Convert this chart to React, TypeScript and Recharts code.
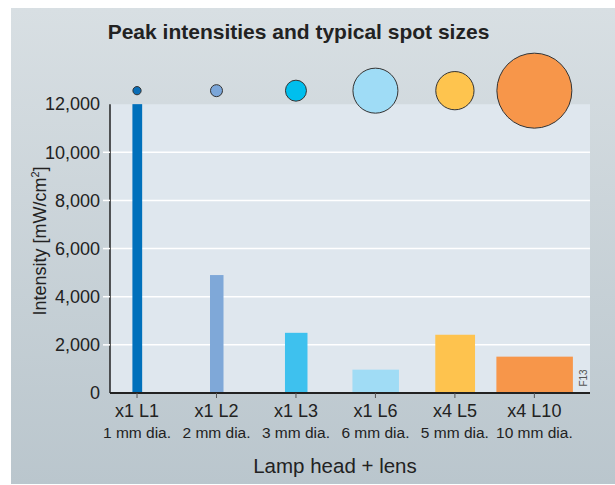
import { ComposedChart, Bar, Scatter, XAxis, YAxis, ReferenceArea, ReferenceLine } from 'recharts';

const lamps = ['x1 L1', 'x1 L2', 'x1 L3', 'x1 L6', 'x4 L5', 'x4 L10'];
const spotLabels = ['1 mm dia.', '2 mm dia.', '3 mm dia.', '6 mm dia.', '5 mm dia.', '10 mm dia.'];
const intensity = [12000, 4900, 2500, 970, 2420, 1510];
const spotMm = [1.1, 1.6, 2.8, 6, 5.1, 10];
const yTicks = [0, 2000, 4000, 6000, 8000, 10000, 12000];
const gridValues = [2000, 4000, 6000, 8000, 10000];

const barColors = ['#0070bb', '#7fa8d8', '#3ec1ee', '#a0dcf5', '#fec34e', '#f7964a'];
const spotColors = ['#0a6db6', '#7ba6d9', '#00bfee', '#9fdcf6', '#fec44e', '#f7964a'];

const FONT = '"Liberation Sans", Arial, Helvetica, sans-serif';
const SPOT_ROW = 12560; // circles sit just above the plot
const PX_PER_MM = 7.5;
const xDomain = [-0.34, 5.7];

const data = lamps.map((name, i) => ({
  idx: i,
  name,
  value: intensity[i],
  spot: spotMm[i],
  spotY: SPOT_ROW,
}));

function BarShape(props: any) {
  const { x, width, y, height, index, payload } = props;
  const cx = x + width / 2;
  const w = Math.max(payload.spot * PX_PER_MM + 1.5, 9.7);
  return <rect x={cx - w / 2} y={y} width={w} height={height} fill={barColors[index]} />;
}

function SpotShape(props: any) {
  const { cx, cy, payload } = props;
  return (
    <circle
      cx={cx}
      cy={cy}
      r={(payload.spot * PX_PER_MM) / 2}
      fill={spotColors[payload.idx]}
      stroke="#333"
      strokeWidth={1}
    />
  );
}

function XTick(props: any) {
  const { x, y, payload } = props;
  const i = payload.value;
  return (
    <g>
      <text x={x} y={y + 17} textAnchor="middle" fontSize={18} fill="#222" fontFamily={FONT}>
        {lamps[i]}
      </text>
      <text x={x} y={y + 38} textAnchor="middle" fontSize={15.5} fill="#222" fontFamily={FONT}>
        {spotLabels[i]}
      </text>
    </g>
  );
}

function YTick(props: any) {
  const { x, y, payload } = props;
  const v = payload.value;
  return (
    <g>
      {v > 0 && v < 12000 && <line x1={x - 7} x2={x} y1={y} y2={y} stroke="#fff" strokeWidth={1.5} />}
      <text x={x - 10} y={y} dy="0.35em" textAnchor="end" fontSize={18} fill="#222" fontFamily={FONT}>
        {v.toLocaleString('en-US')}
      </text>
    </g>
  );
}

export default function App() {
  return (
    <div style={{ position: 'absolute', left: 0, top: 0, width: 615, height: 485, fontFamily: FONT, color: '#222' }}>
      <div
        style={{
          position: 'absolute',
          left: 11,
          top: 8,
          right: 0,
          bottom: 1,
          background: 'linear-gradient(to bottom, #d8dfe3, #bac6cd)',
        }}
      />
      <div style={{ position: 'absolute', left: 0, width: 597, top: 20, textAlign: 'center', fontSize: 21, fontWeight: 700 }}>
        Peak intensities and typical spot sizes
      </div>
      <div
        style={{
          position: 'absolute',
          left: 40,
          top: 241,
          transform: 'translate(-50%, -50%) rotate(-90deg)',
          whiteSpace: 'nowrap',
          fontSize: 18,
        }}
      >
        Intensity [mW/cm<sup style={{ fontSize: 11 }}>2</sup>]
      </div>
      <div style={{ position: 'absolute', left: 0, width: 670, top: 454, textAlign: 'center', fontSize: 20.5 }}>
        Lamp head + lens
      </div>
      <div style={{ position: 'absolute', left: 0, top: 0 }}>
        <ComposedChart width={615} height={485} data={data} margin={{ top: 56, right: 25, bottom: 0, left: 0 }}>
          <ReferenceArea
            x1={xDomain[0]}
            x2={xDomain[1]}
            y1={0}
            y2={12000}
            fill="#dfe7ee"
            fillOpacity={1}
            stroke="none"
            zIndex={-200}
          />
          {gridValues.map((v) => (
            <ReferenceLine key={v} y={v} stroke="#fff" strokeWidth={1.5} zIndex={-150} />
          ))}
          <ReferenceLine
            segment={[
              { x: xDomain[0], y: 0 },
              { x: xDomain[0], y: 12000 },
            ]}
            stroke="#222"
            strokeWidth={1.5}
          />
          <XAxis
            type="number"
            dataKey="idx"
            domain={xDomain}
            ticks={[0, 1, 2, 3, 4, 5]}
            height={92}
            tickSize={5}
            tickMargin={2}
            tick={<XTick />}
            tickLine={{ stroke: '#555' }}
            axisLine={{ stroke: '#222', strokeWidth: 2 }}
          />
          <YAxis
            type="number"
            domain={[0, 14000]}
            ticks={yTicks}
            width={110}
            axisLine={false}
            tickLine={false}
            tickSize={0}
            tickMargin={0}
            tick={<YTick />}
          />
          <Bar dataKey="value" barSize={10} shape={<BarShape />} isAnimationActive={false} />
          <Scatter dataKey="spotY" shape={<SpotShape />} isAnimationActive={false} />
        </ComposedChart>
      </div>
      <div
        style={{
          position: 'absolute',
          left: 583,
          top: 378,
          transform: 'translate(-50%, -50%) rotate(-90deg)',
          fontSize: 10,
          color: '#555',
        }}
      >
        F13
      </div>
    </div>
  );
}
